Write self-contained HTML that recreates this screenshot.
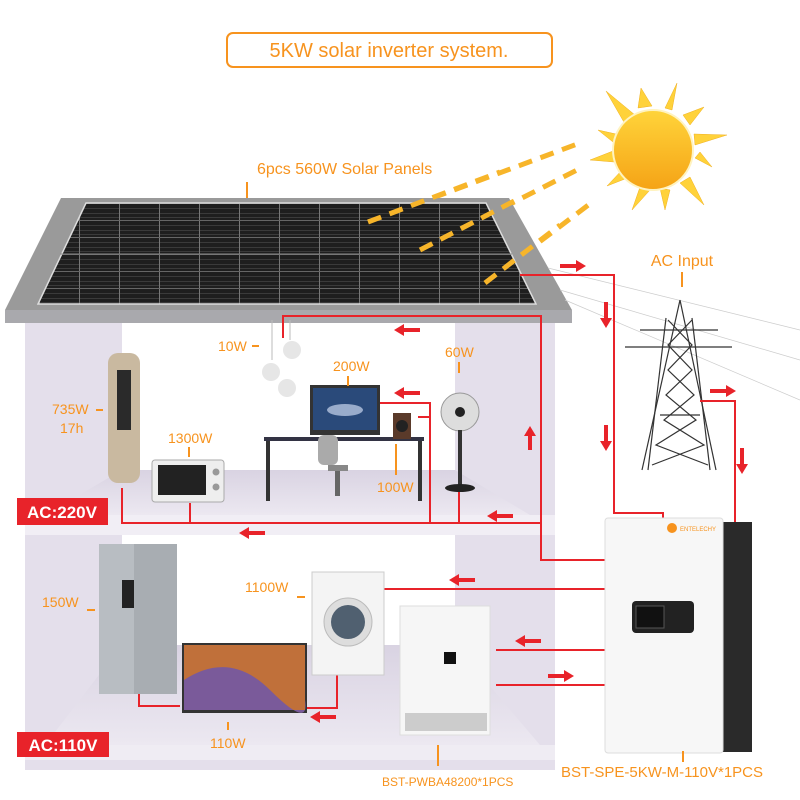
<!DOCTYPE html>
<html><head><meta charset="utf-8"><style>
html,body{margin:0;padding:0;background:#fff}
svg{display:block}
text{font-family:"Liberation Sans",sans-serif}
.o{fill:#f7931e;font-size:14px}
</style></head><body>
<svg width="800" height="800" viewBox="0 0 800 800" xmlns="http://www.w3.org/2000/svg">
<defs>
<marker id="n" markerWidth="1" markerHeight="1"/>
<linearGradient id="sun" x1="0" y1="0" x2="0" y2="1"><stop offset="0" stop-color="#ffd43a"/><stop offset="1" stop-color="#f5a316"/></linearGradient>
<linearGradient id="floor" x1="0" y1="0" x2="0" y2="1"><stop offset="0" stop-color="#d9d3e2"/><stop offset="1" stop-color="#ece8f1"/></linearGradient>
<pattern id="cells" width="40" height="17" patternUnits="userSpaceOnUse"><rect width="40" height="17" fill="#1e1e1e"/><rect x="0" y="4" width="40" height="1" fill="#3a3a3a"/><rect x="0" y="9" width="40" height="1" fill="#3a3a3a"/><rect x="0" y="13" width="40" height="1" fill="#3a3a3a"/><rect x="39" y="0" width="1.2" height="17" fill="#777"/><rect x="0" y="16" width="40" height="1" fill="#666"/></pattern>
</defs>

<!-- title -->
<rect x="227" y="33" width="325" height="34" rx="6" fill="#fff" stroke="#f7931e" stroke-width="2"/>
<text x="389" y="57" text-anchor="middle" fill="#f7931e" font-size="20">5KW solar inverter system.</text>

<!-- sun -->
<g fill="#ffd23a" stroke="#f0b020" stroke-width="0.5">
<polygon points="606,91 635,115 625,124"/><polygon points="641,88 652,106 638,108"/><polygon points="677,83 672,110 665,108"/>
<polygon points="704,107 690,125 683,115"/><polygon points="727,135 695,145 694,134"/><polygon points="712,167 695,158 700,152"/>
<polygon points="704,205 680,183 690,177"/><polygon points="665,210 660,188 670,190"/><polygon points="632,210 640,187 650,190"/>
<polygon points="607,186 622,170 630,177"/><polygon points="590,160 613,151 614,162"/><polygon points="598,130 616,134 613,142"/>
</g>
<circle cx="653" cy="150" r="40" fill="url(#sun)" stroke="#fff3c0" stroke-width="2"/>
<g stroke="#f7b52a" stroke-width="5" stroke-dasharray="14,9" fill="none">
<line x1="368" y1="222" x2="580" y2="143"/><line x1="420" y1="250" x2="577" y2="170"/><line x1="485" y1="283" x2="595" y2="200"/>
</g>

<!-- panels label -->
<text x="257" y="174" fill="#f7931e" font-size="16">6pcs 560W Solar Panels</text>
<line x1="247" y1="182" x2="247" y2="200" stroke="#f7931e" stroke-width="2"/>

<!-- house walls -->
<rect x="25" y="323" width="530" height="447" fill="#e4dfeb"/>
<rect x="122" y="323" width="333" height="150" fill="#fff"/>
<polygon points="122,470 455,470 530,515 45,515" fill="url(#floor)"/>
<rect x="25" y="515" width="530" height="20" fill="#f1eef5"/>
<rect x="122" y="535" width="333" height="112" fill="#fff"/>
<polygon points="122,645 455,645 540,745 45,745" fill="url(#floor)"/>
<rect x="25" y="745" width="530" height="15" fill="#efecf3"/>
<!-- roof -->
<polygon points="61,198 509,198 572,310 5,310" fill="#9a9a9a"/>
<rect x="5" y="310" width="567" height="13" fill="#a9a9ad"/>
<polygon points="86,203 486,203 536,304 38,304" fill="url(#cells)" stroke="#ddd" stroke-width="1.5"/>
<line x1="60" y1="254" x2="512" y2="254" stroke="#888" stroke-width="1"/>
<!-- dashes over panel again -->
<g stroke="#f7b52a" stroke-width="5" stroke-dasharray="14,9" fill="none">
<line x1="368" y1="222" x2="500" y2="172"/><line x1="420" y1="250" x2="520" y2="198"/><line x1="485" y1="283" x2="560" y2="225"/>
</g>
<g stroke="#ccc" stroke-width="0.7"><line x1="548" y1="268" x2="800" y2="330"/><line x1="560" y1="290" x2="800" y2="360"/><line x1="565" y1="300" x2="800" y2="400"/></g>

<!-- tower -->
<g stroke="#333" stroke-width="1.2" fill="none">
<line x1="680" y1="300" x2="642" y2="470"/><line x1="680" y1="300" x2="716" y2="470"/>
<line x1="666" y1="318" x2="648" y2="470"/><line x1="692" y1="318" x2="710" y2="470"/>
<line x1="640" y1="330" x2="718" y2="330"/><line x1="625" y1="347" x2="732" y2="347"/>
<line x1="660" y1="415" x2="700" y2="415"/>
<path d="M668,320 L692,345 L668,370 L694,395 L664,420 L704,445 L652,465 M692,320 L668,345 L692,370 L666,395 L696,420 L656,445 L708,465"/>
</g>
<text x="682" y="266" text-anchor="middle" fill="#f7931e" font-size="16">AC Input</text>
<line x1="682" y1="272" x2="682" y2="287" stroke="#f7931e" stroke-width="2"/>

<!-- red wires -->
<g stroke="#e8232a" stroke-width="2" fill="none">
<polyline points="520,275 614,275 614,513 663,513 663,522"/>
<polyline points="700,401 735,401 735,522"/>
<polyline points="605,560 541,560 541,316 283,316 283,338"/>
<polyline points="122,488 122,523 541,523"/>
<line x1="190" y1="503" x2="190" y2="523"/>
<polyline points="380,403 430,403 430,523"/>
<line x1="418" y1="417" x2="430" y2="417"/>
<line x1="459" y1="488" x2="459" y2="523"/>
<line x1="384" y1="589" x2="605" y2="589"/>
<polyline points="337,675 337,708 295,708"/>
<polyline points="139,693 139,706 180,706"/>
<line x1="496" y1="650" x2="605" y2="650"/>
<line x1="496" y1="685" x2="605" y2="685"/>
</g>
<!-- arrows -->
<g fill="#e8232a">
<path d="M560,264 h16 v-4 l10,6 l-10,6 v-4 h-16z"/>
<path d="M604,302 v16 h-4 l6,10 l6,-10 h-4 v-16z"/>
<path d="M604,425 v16 h-4 l6,10 l6,-10 h-4 v-16z"/>
<path d="M710,389 h16 v-4 l10,6 l-10,6 v-4 h-16z"/>
<path d="M740,448 v16 h-4 l6,10 l6,-10 h-4 v-16z"/>
<path d="M420,328 h-16 v-4 l-10,6 l10,6 v-4 h16z"/>
<path d="M420,391 h-16 v-4 l-10,6 l10,6 v-4 h16z"/>
<path d="M528,450 v-14 h-4 l6,-10 l6,10 h-4 v14z"/>
<path d="M513,514 h-16 v-4 l-10,6 l10,6 v-4 h16z"/>
<path d="M265,531 h-16 v-4 l-10,6 l10,6 v-4 h16z"/>
<path d="M475,578 h-16 v-4 l-10,6 l10,6 v-4 h16z"/>
<path d="M541,639 h-16 v-4 l-10,6 l10,6 v-4 h16z"/>
<path d="M548,674 h16 v-4 l10,6 l-10,6 v-4 h-16z"/>
<path d="M336,715 h-16 v-4 l-10,6 l10,6 v-4 h16z"/>
</g>

<!-- upper appliances -->
<rect x="108" y="353" width="32" height="130" rx="10" fill="#c9b9a0"/>
<rect x="117" y="370" width="14" height="60" fill="#2a2a2a"/>
<rect x="152" y="460" width="72" height="42" rx="3" fill="#eee" stroke="#aaa"/>
<rect x="158" y="465" width="48" height="30" fill="#222"/>
<circle cx="216" cy="472" r="3.5" fill="#999"/><circle cx="216" cy="487" r="3.5" fill="#999"/>
<line x1="272" y1="320" x2="272" y2="360" stroke="#bbb"/><line x1="290" y1="320" x2="290" y2="340" stroke="#bbb"/>
<ellipse cx="271" cy="372" rx="9" ry="9" fill="#e6e6e6"/><ellipse cx="292" cy="350" rx="9" ry="9" fill="#e6e6e6"/><ellipse cx="287" cy="388" rx="9" ry="9" fill="#e6e6e6"/>
<rect x="310" y="385" width="70" height="50" fill="#333"/><rect x="313" y="388" width="64" height="42" fill="#2a4a7a"/>
<ellipse cx="345" cy="410" rx="18" ry="6" fill="#c9d6ee" opacity=".7"/>
<rect x="264" y="437" width="160" height="4" fill="#334"/>
<rect x="266" y="441" width="4" height="60" fill="#333"/><rect x="418" y="441" width="4" height="60" fill="#333"/>
<rect x="318" y="435" width="20" height="30" rx="6" fill="#aaa"/><rect x="328" y="465" width="20" height="6" fill="#888"/><rect x="335" y="471" width="5" height="25" fill="#666"/>
<rect x="393" y="413" width="18" height="26" fill="#5a3a2a"/><circle cx="402" cy="426" r="6" fill="#222"/>
<circle cx="460" cy="412" r="19" fill="#ddd" stroke="#999"/><circle cx="460" cy="412" r="5" fill="#222"/>
<rect x="458" y="430" width="4" height="58" fill="#333"/><ellipse cx="460" cy="488" rx="15" ry="4" fill="#222"/>

<!-- upper labels -->
<text x="218" y="351" class="o">10W</text><line x1="252" y1="346" x2="259" y2="346" stroke="#f7931e" stroke-width="2"/>
<text x="333" y="371" class="o">200W</text><line x1="348" y1="376" x2="348" y2="386" stroke="#f7931e" stroke-width="2"/>
<text x="445" y="357" class="o">60W</text><line x1="459" y1="362" x2="459" y2="373" stroke="#f7931e" stroke-width="2"/>
<text x="52" y="414" class="o">735W</text><text x="60" y="433" class="o">17h</text><line x1="96" y1="410" x2="103" y2="410" stroke="#f7931e" stroke-width="2"/>
<text x="168" y="443" class="o">1300W</text><line x1="189" y1="447" x2="189" y2="457" stroke="#f7931e" stroke-width="2"/>
<text x="377" y="492" class="o">100W</text><line x1="396" y1="444" x2="396" y2="475" stroke="#f7931e" stroke-width="2"/>

<rect x="17" y="498" width="91" height="27" fill="#e8232a"/>
<text x="62" y="518" text-anchor="middle" fill="#fff" font-size="17" font-weight="bold">AC:220V</text>

<!-- lower appliances -->
<rect x="99" y="544" width="78" height="150" fill="#a8adb2"/>
<rect x="99" y="544" width="35" height="150" fill="#b8bdc2"/>
<rect x="122" y="580" width="12" height="28" fill="#222"/>
<rect x="182" y="643" width="125" height="70" fill="#333"/><rect x="184" y="645" width="121" height="65" fill="#c0703a"/>
<path d="M184,680 Q230,650 270,690 T305,700 V710 H184Z" fill="#7a5a9a"/>
<rect x="312" y="572" width="72" height="103" fill="#f4f4f4" stroke="#ccc"/>
<circle cx="348" cy="622" r="24" fill="#ddd" stroke="#bbb"/><circle cx="348" cy="622" r="17" fill="#506070"/>
<rect x="400" y="606" width="90" height="129" fill="#f6f6f6" stroke="#ddd"/>
<rect x="444" y="652" width="12" height="12" fill="#111"/>
<rect x="405" y="713" width="82" height="18" fill="#ccc"/>

<!-- inverter -->
<rect x="720" y="522" width="32" height="230" fill="#2a2a2a"/>
<rect x="605" y="518" width="118" height="235" rx="3" fill="#f7f7f7" stroke="#ddd"/>
<rect x="632" y="601" width="62" height="32" rx="4" fill="#222"/>
<rect x="636" y="606" width="28" height="22" fill="#111" stroke="#555"/>
<circle cx="672" cy="528" r="5" fill="#f7931e"/>
<text x="680" y="531" fill="#f7931e" font-size="6">ENTELECHY</text>

<!-- lower labels -->
<text x="42" y="607" class="o">150W</text><line x1="87" y1="610" x2="95" y2="610" stroke="#f7931e" stroke-width="2"/>
<text x="245" y="592" class="o">1100W</text><line x1="297" y1="597" x2="305" y2="597" stroke="#f7931e" stroke-width="2"/>
<text x="210" y="748" class="o">110W</text><line x1="228" y1="722" x2="228" y2="730" stroke="#f7931e" stroke-width="2"/>
<line x1="438" y1="745" x2="438" y2="766" stroke="#f7931e" stroke-width="2"/>
<text x="382" y="786" fill="#f7931e" font-size="12">BST-PWBA48200*1PCS</text>
<line x1="683" y1="751" x2="683" y2="762" stroke="#f7931e" stroke-width="2"/>
<text x="561" y="777" fill="#f7931e" font-size="15">BST-SPE-5KW-M-110V*1PCS</text>

<rect x="17" y="732" width="92" height="25" fill="#e8232a"/>
<text x="63" y="751" text-anchor="middle" fill="#fff" font-size="17" font-weight="bold">AC:110V</text>
</svg>
</body></html>
